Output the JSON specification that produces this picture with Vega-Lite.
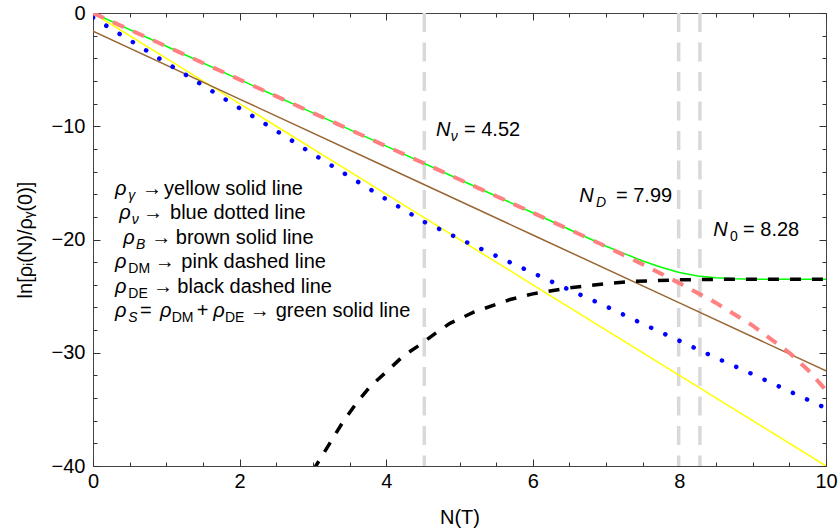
{
  "$schema": "https://vega.github.io/schema/vega-lite/v6.json",
  "width": 733,
  "height": 453,
  "autosize": {"type": "none"},
  "padding": {"left": 93, "top": 13, "right": 13, "bottom": 66},
  "background": "white",
  "config": {
    "view": {"stroke": "#444444", "strokeWidth": 1},
    "axis": {
      "domain": false,
      "grid": false,
      "labelFont": "Liberation Sans",
      "labelFontSize": 20,
      "labelColor": "#000000",
      "titleFont": "Liberation Sans",
      "titleFontSize": 20,
      "titleFontWeight": "normal",
      "titleColor": "#000000",
      "tickColor": "#333333",
      "tickWidth": 1,
      "labelFlush": false,
      "labelOverlap": false,
      "labelBound": false
    },
    "text": {"font": "Liberation Sans", "color": "#000000"}
  },
  "datasets": {
    "vlines": [{"N": 4.52}, {"N": 7.99}, {"N": 8.28}],
    "curves": [
      {"s": "gamma", "N": 0, "v": 0}, {"s": "gamma", "N": 2, "v": -8}, {"s": "gamma", "N": 4, "v": -16},
      {"s": "gamma", "N": 6, "v": -24}, {"s": "gamma", "N": 8, "v": -32}, {"s": "gamma", "N": 10, "v": -40},

      {"s": "B", "N": 0, "v": -1.6}, {"s": "B", "N": 2, "v": -7.6}, {"s": "B", "N": 4, "v": -13.6},
      {"s": "B", "N": 6, "v": -19.6}, {"s": "B", "N": 8, "v": -25.6}, {"s": "B", "N": 10, "v": -31.6},

      {"s": "nu", "N": 0, "v": -0.4}, {"s": "nu", "N": 0.5, "v": -2.4}, {"s": "nu", "N": 1, "v": -4.4},
      {"s": "nu", "N": 1.5, "v": -6.4}, {"s": "nu", "N": 2, "v": -8.4}, {"s": "nu", "N": 2.5, "v": -10.4},
      {"s": "nu", "N": 3, "v": -12.45}, {"s": "nu", "N": 3.5, "v": -14.45}, {"s": "nu", "N": 4, "v": -16.45},
      {"s": "nu", "N": 4.52, "v": -18.45}, {"s": "nu", "N": 4.75, "v": -19.15}, {"s": "nu", "N": 5, "v": -19.95},
      {"s": "nu", "N": 5.5, "v": -21.45}, {"s": "nu", "N": 6, "v": -22.95}, {"s": "nu", "N": 6.5, "v": -24.45},
      {"s": "nu", "N": 7, "v": -25.9}, {"s": "nu", "N": 7.5, "v": -27.45}, {"s": "nu", "N": 8, "v": -28.95},
      {"s": "nu", "N": 8.5, "v": -30.45}, {"s": "nu", "N": 9, "v": -31.9}, {"s": "nu", "N": 9.5, "v": -33.4},
      {"s": "nu", "N": 10, "v": -34.9},

      {"s": "S", "N": 0, "v": 0}, {"s": "S", "N": 1, "v": -2.94}, {"s": "S", "N": 2, "v": -5.88},
      {"s": "S", "N": 3, "v": -8.82}, {"s": "S", "N": 4, "v": -11.76}, {"s": "S", "N": 5, "v": -14.7},
      {"s": "S", "N": 6, "v": -17.64}, {"s": "S", "N": 6.5, "v": -19.12}, {"s": "S", "N": 7, "v": -20.6},
      {"s": "S", "N": 7.25, "v": -21.25}, {"s": "S", "N": 7.5, "v": -21.9}, {"s": "S", "N": 7.75, "v": -22.45},
      {"s": "S", "N": 8, "v": -22.92}, {"s": "S", "N": 8.25, "v": -23.22}, {"s": "S", "N": 8.5, "v": -23.38},
      {"s": "S", "N": 8.75, "v": -23.46}, {"s": "S", "N": 9, "v": -23.5}, {"s": "S", "N": 10, "v": -23.5},

      {"s": "DE", "N": 3.0, "v": -40.4}, {"s": "DE", "N": 3.04, "v": -40}, {"s": "DE", "N": 3.23, "v": -38.0},
      {"s": "DE", "N": 3.41, "v": -36.1}, {"s": "DE", "N": 3.6, "v": -34.4}, {"s": "DE", "N": 3.78, "v": -33.0},
      {"s": "DE", "N": 4.0, "v": -31.7}, {"s": "DE", "N": 4.23, "v": -30.3}, {"s": "DE", "N": 4.46, "v": -29.3},
      {"s": "DE", "N": 4.71, "v": -28.1}, {"s": "DE", "N": 4.87, "v": -27.4}, {"s": "DE", "N": 5.2, "v": -26.4},
      {"s": "DE", "N": 5.69, "v": -25.3}, {"s": "DE", "N": 6.0, "v": -24.8}, {"s": "DE", "N": 6.47, "v": -24.3},
      {"s": "DE", "N": 7.0, "v": -23.9}, {"s": "DE", "N": 7.37, "v": -23.7}, {"s": "DE", "N": 8.05, "v": -23.55},
      {"s": "DE", "N": 9, "v": -23.5}, {"s": "DE", "N": 10, "v": -23.5},

      {"s": "DM", "N": 0, "v": 0}, {"s": "DM", "N": 1, "v": -2.94}, {"s": "DM", "N": 2, "v": -5.88},
      {"s": "DM", "N": 3, "v": -8.82}, {"s": "DM", "N": 4, "v": -11.76}, {"s": "DM", "N": 5, "v": -14.7},
      {"s": "DM", "N": 6, "v": -17.64}, {"s": "DM", "N": 6.5, "v": -19.12}, {"s": "DM", "N": 7, "v": -20.62},
      {"s": "DM", "N": 7.5, "v": -22.2}, {"s": "DM", "N": 8, "v": -23.85}, {"s": "DM", "N": 8.5, "v": -25.6},
      {"s": "DM", "N": 9, "v": -27.6}, {"s": "DM", "N": 9.5, "v": -30.0}, {"s": "DM", "N": 9.75, "v": -31.5},
      {"s": "DM", "N": 10, "v": -33.3}
    ],
    "labels": [
      {"x": 0.300, "y": -16.06, "t": "ρ", "role": "sym"},
      {"x": 0.482, "y": -16.06, "t": "γ", "role": "subi"},
      {"x": 0.669, "y": -16.06, "t": "→", "role": "txt"},
      {"x": 0.969, "y": -16.06, "t": "yellow solid line", "role": "txt"},

      {"x": 0.359, "y": -18.23, "t": "ρ", "role": "sym"},
      {"x": 0.528, "y": -18.23, "t": "ν", "role": "subi"},
      {"x": 0.682, "y": -18.23, "t": "→", "role": "txt"},
      {"x": 1.051, "y": -18.23, "t": "blue dotted line", "role": "txt"},

      {"x": 0.413, "y": -20.39, "t": "ρ", "role": "sym"},
      {"x": 0.587, "y": -20.39, "t": "B", "role": "subi"},
      {"x": 0.796, "y": -20.39, "t": "→", "role": "txt"},
      {"x": 1.129, "y": -20.39, "t": "brown solid line", "role": "txt"},

      {"x": 0.300, "y": -22.55, "t": "ρ", "role": "sym"},
      {"x": 0.482, "y": -22.55, "t": "DM", "role": "subu"},
      {"x": 0.842, "y": -22.55, "t": "→", "role": "txt"},
      {"x": 1.205, "y": -22.55, "t": "pink dashed line", "role": "txt"},

      {"x": 0.300, "y": -24.71, "t": "ρ", "role": "sym"},
      {"x": 0.482, "y": -24.71, "t": "DE", "role": "subu"},
      {"x": 0.819, "y": -24.71, "t": "→", "role": "txt"},
      {"x": 1.151, "y": -24.71, "t": "black dashed line", "role": "txt"},

      {"x": 0.300, "y": -26.87, "t": "ρ", "role": "sym"},
      {"x": 0.482, "y": -26.87, "t": "S", "role": "subi"},
      {"x": 0.641, "y": -26.87, "t": "=", "role": "txt"},
      {"x": 0.914, "y": -26.87, "t": "ρ", "role": "sym"},
      {"x": 1.074, "y": -26.87, "t": "DM", "role": "subu"},
      {"x": 1.415, "y": -26.87, "t": "+", "role": "txt"},
      {"x": 1.641, "y": -26.87, "t": "ρ", "role": "sym"},
      {"x": 1.801, "y": -26.87, "t": "DE", "role": "subu"},
      {"x": 2.138, "y": -26.87, "t": "→", "role": "txt"},
      {"x": 2.493, "y": -26.87, "t": "green solid line", "role": "txt"},

      {"x": 4.679, "y": -10.86, "t": "N", "role": "sym"},
      {"x": 4.880, "y": -10.86, "t": "ν", "role": "subi"},
      {"x": 5.061, "y": -10.86, "t": "= 4.52", "role": "txt"},

      {"x": 6.634, "y": -16.71, "t": "N", "role": "sym"},
      {"x": 6.862, "y": -16.71, "t": "D", "role": "subi"},
      {"x": 7.135, "y": -16.71, "t": "= 7.99", "role": "txt"},

      {"x": 8.462, "y": -19.68, "t": "N", "role": "sym"},
      {"x": 8.690, "y": -19.68, "t": "0", "role": "subu"},
      {"x": 8.868, "y": -19.68, "t": "= 8.28", "role": "txt"}
    ]
  },
  "resolve": {"axis": {"x": "independent", "y": "independent"}},
  "layer": [
    {
      "data": {"name": "vlines"},
      "mark": {"type": "rule", "color": "#D9D9D9", "strokeWidth": 3.5, "strokeDash": [19, 10.5]},
      "encoding": {
        "x": {"field": "N", "type": "quantitative", "scale": {"domain": [0, 10], "nice": false, "zero": false}, "axis": null}
      }
    },
    {
      "data": {"name": "curves"},
      "transform": [{"filter": "datum.s === 'gamma'"}],
      "mark": {"type": "line", "color": "#FFFF00", "strokeWidth": 1.5, "clip": true},
      "encoding": {
        "x": {"field": "N", "type": "quantitative", "scale": {"domain": [0, 10], "nice": false, "zero": false},
              "axis": {"orient": "bottom", "values": [0, 2, 4, 6, 8, 10], "ticks": false, "tickSize": 0, "labelPadding": 5, "format": "d", "title": "N(T)", "titlePadding": 16}},
        "y": {"field": "v", "type": "quantitative", "scale": {"domain": [-40, 0], "nice": false, "zero": false},
              "axis": {"orient": "left", "values": [-40, -30, -20, -10, 0], "ticks": false, "tickSize": 0, "labelPadding": 8, "format": "d", "title": "ln[ρᵢ(N)/ρᵧ(0)]", "titlePadding": 16}}
      }
    },
    {
      "data": {"name": "curves"},
      "transform": [{"filter": "datum.s === 'B'"}],
      "mark": {"type": "line", "color": "#996633", "strokeWidth": 1.5, "clip": true},
      "encoding": {
        "x": {"field": "N", "type": "quantitative", "scale": {"domain": [0, 10], "nice": false, "zero": false},
              "axis": {"orient": "bottom", "values": [0, 2, 4, 6, 8, 10], "offset": -7, "tickSize": 7, "labels": false, "title": null}},
        "y": {"field": "v", "type": "quantitative", "scale": {"domain": [-40, 0], "nice": false, "zero": false},
              "axis": {"orient": "left", "values": [-40, -30, -20, -10, 0], "offset": -7, "tickSize": 7, "labels": false, "title": null}}
      }
    },
    {
      "data": {"name": "curves"},
      "transform": [{"filter": "datum.s === 'nu'"}],
      "mark": {"type": "line", "color": "#0000FF", "strokeWidth": 4.5, "strokeDash": [0.1, 15.5], "strokeCap": "round", "clip": true},
      "encoding": {
        "x": {"field": "N", "type": "quantitative", "scale": {"domain": [0, 10], "nice": false, "zero": false},
              "axis": {"orient": "bottom", "values": [0.5, 1, 1.5, 2.5, 3, 3.5, 4.5, 5, 5.5, 6.5, 7, 7.5, 8.5, 9, 9.5], "offset": -4, "tickSize": 4, "labels": false, "title": null}},
        "y": {"field": "v", "type": "quantitative", "scale": {"domain": [-40, 0], "nice": false, "zero": false},
              "axis": {"orient": "left", "values": [-38, -36, -34, -32, -28, -26, -24, -22, -18, -16, -14, -12, -8, -6, -4, -2], "offset": -4, "tickSize": 4, "labels": false, "title": null}}
      }
    },
    {
      "data": {"name": "curves"},
      "transform": [{"filter": "datum.s === 'S'"}],
      "mark": {"type": "line", "color": "#00FF00", "strokeWidth": 1.5, "clip": true},
      "encoding": {
        "x": {"field": "N", "type": "quantitative", "scale": {"domain": [0, 10], "nice": false, "zero": false},
              "axis": {"orient": "top", "values": [0, 2, 4, 6, 8, 10], "offset": -7, "tickSize": 7, "labels": false, "title": null}},
        "y": {"field": "v", "type": "quantitative", "scale": {"domain": [-40, 0], "nice": false, "zero": false},
              "axis": {"orient": "right", "values": [-40, -30, -20, -10, 0], "offset": -7, "tickSize": 7, "labels": false, "title": null}}
      }
    },
    {
      "data": {"name": "curves"},
      "transform": [{"filter": "datum.s === 'DE'"}],
      "mark": {"type": "line", "color": "#000000", "strokeWidth": 3.5, "strokeDash": [11, 11], "clip": true},
      "encoding": {
        "x": {"field": "N", "type": "quantitative", "scale": {"domain": [0, 10], "nice": false, "zero": false},
              "axis": {"orient": "top", "values": [0.5, 1, 1.5, 2.5, 3, 3.5, 4.5, 5, 5.5, 6.5, 7, 7.5, 8.5, 9, 9.5], "offset": -4, "tickSize": 4, "labels": false, "title": null}},
        "y": {"field": "v", "type": "quantitative", "scale": {"domain": [-40, 0], "nice": false, "zero": false},
              "axis": {"orient": "right", "values": [-38, -36, -34, -32, -28, -26, -24, -22, -18, -16, -14, -12, -8, -6, -4, -2], "offset": -4, "tickSize": 4, "labels": false, "title": null}}
      }
    },
    {
      "data": {"name": "curves"},
      "transform": [{"filter": "datum.s === 'DM'"}],
      "mark": {"type": "line", "color": "#FF8080", "strokeWidth": 4, "strokeDash": [12, 10], "clip": true},
      "encoding": {
        "x": {"field": "N", "type": "quantitative", "scale": {"domain": [0, 10], "nice": false, "zero": false}, "axis": null},
        "y": {"field": "v", "type": "quantitative", "scale": {"domain": [-40, 0], "nice": false, "zero": false}, "axis": null}
      }
    },
    {
      "data": {"name": "labels"},
      "transform": [{"filter": "datum.role === 'txt'"}],
      "mark": {"type": "text", "align": "left", "baseline": "alphabetic", "fontSize": 20},
      "encoding": {
        "x": {"field": "x", "type": "quantitative", "axis": null},
        "y": {"field": "y", "type": "quantitative", "axis": null},
        "text": {"field": "t"}
      }
    },
    {
      "data": {"name": "labels"},
      "transform": [{"filter": "datum.role === 'sym'"}],
      "mark": {"type": "text", "align": "left", "baseline": "alphabetic", "fontSize": 20, "fontStyle": "italic"},
      "encoding": {
        "x": {"field": "x", "type": "quantitative", "axis": null},
        "y": {"field": "y", "type": "quantitative", "axis": null},
        "text": {"field": "t"}
      }
    },
    {
      "data": {"name": "labels"},
      "transform": [{"filter": "datum.role === 'subi'"}],
      "mark": {"type": "text", "align": "left", "baseline": "alphabetic", "fontSize": 14, "fontStyle": "italic", "dy": 5},
      "encoding": {
        "x": {"field": "x", "type": "quantitative", "axis": null},
        "y": {"field": "y", "type": "quantitative", "axis": null},
        "text": {"field": "t"}
      }
    },
    {
      "data": {"name": "labels"},
      "transform": [{"filter": "datum.role === 'subu'"}],
      "mark": {"type": "text", "align": "left", "baseline": "alphabetic", "fontSize": 14, "dy": 5},
      "encoding": {
        "x": {"field": "x", "type": "quantitative", "axis": null},
        "y": {"field": "y", "type": "quantitative", "axis": null},
        "text": {"field": "t"}
      }
    }
  ]
}
